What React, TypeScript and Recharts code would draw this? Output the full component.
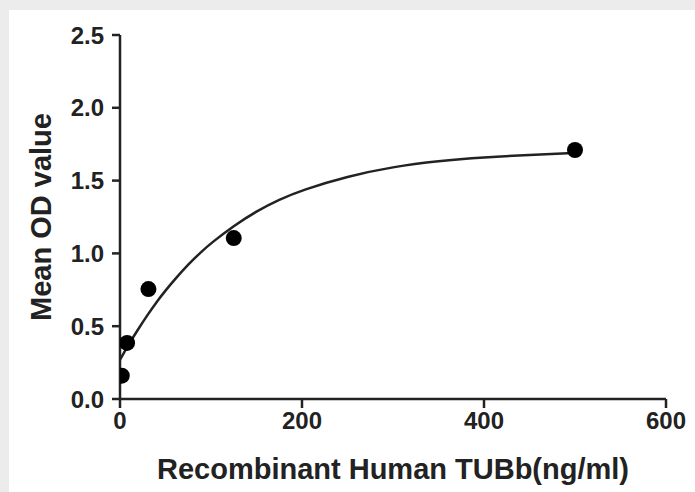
import { ComposedChart, Line, Scatter, XAxis, YAxis } from 'recharts';

// measured standards (ng/ml vs mean OD)
const concentrations = [1.95, 7.8, 31.25, 125, 500];
const meanOD = [0.16, 0.385, 0.755, 1.105, 1.71];

// fitted curve
const curveX = [0, 10, 20, 30, 40, 50, 60, 75, 90, 100, 125, 150, 175, 200, 250, 300, 350, 400, 450, 500];
const curveY = [0.27, 0.38, 0.48, 0.575, 0.665, 0.745, 0.82, 0.925, 1.015, 1.07, 1.19, 1.29, 1.37, 1.435, 1.53, 1.595, 1.635, 1.66, 1.677, 1.69];

const xTicks = [0, 200, 400, 600];
const yTicks = [0, 0.5, 1.0, 1.5, 2.0, 2.5];

const xTitle = 'Recombinant Human TUBb(ng/ml)';
const yTitle = 'Mean OD value';

const ink = '#222';
const font = '"Liberation Sans", Arial, sans-serif';

export default function App() {
  const points = concentrations.map((x, i) => ({ x, y: meanOD[i] }));
  const curve = curveX.map((x, i) => ({ x, y: curveY[i] }));

  const tickStyle = { fontSize: 24, fontWeight: 700, fill: ink, fontFamily: font };

  return (
    <div style={{ position: 'absolute', left: 0, top: 0, width: 695, height: 492, background: '#ececec' }}>
      <div style={{ position: 'absolute', left: 9, top: 10, width: 686, height: 482, background: '#fff' }} />
      <div style={{ position: 'absolute', left: 0, top: 0 }}>
        <ComposedChart width={695} height={492} margin={{ top: 35, right: 29, bottom: 13, left: 10 }}>
          <XAxis
            type="number"
            dataKey="x"
            domain={[0, 600]}
            ticks={xTicks}
            height={80}
            stroke={ink}
            strokeWidth={2.5}
            tickSize={9}
            tick={tickStyle}
            tickMargin={4}
            allowDataOverflow
          />
          <YAxis
            type="number"
            dataKey="y"
            domain={[0, 2.5]}
            ticks={yTicks}
            width={110}
            stroke={ink}
            strokeWidth={2.5}
            tickSize={8}
            tick={tickStyle}
            tickMargin={8}
            tickFormatter={(v) => v.toFixed(1)}
          />
          <Line
            data={curve}
            dataKey="y"
            type="basis"
            stroke={ink}
            strokeWidth={2.5}
            dot={false}
            activeDot={false}
            isAnimationActive={false}
          />
          <Scatter data={points} dataKey="y" fill="#000" shape={(p: any) => <circle cx={p.cx} cy={p.cy} r={8} fill="#000" />} isAnimationActive={false} />
        </ComposedChart>
      </div>
      <div
        style={{
          position: 'absolute',
          left: 120,
          width: 546,
          top: 452,
          textAlign: 'center',
          fontFamily: font,
          fontSize: 29,
          fontWeight: 700,
          color: ink,
          lineHeight: '34px',
          whiteSpace: 'nowrap',
        }}
      >
        {xTitle}
      </div>
      <div
        style={{
          position: 'absolute',
          left: 41,
          top: 217,
          transform: 'translate(-50%, -50%) rotate(-90deg)',
          fontFamily: font,
          fontSize: 29,
          fontWeight: 700,
          color: ink,
          lineHeight: '34px',
          whiteSpace: 'nowrap',
        }}
      >
        {yTitle}
      </div>
    </div>
  );
}
